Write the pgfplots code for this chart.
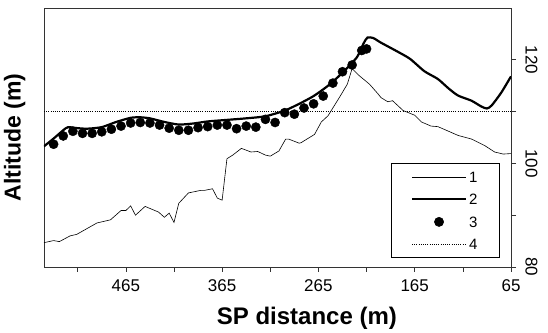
\documentclass[border=0pt]{standalone}
\usepackage{pgfplots}
\pgfplotsset{compat=1.18}
\usepackage{fontspec}
\setmainfont{Liberation Sans}
\pgfplotsset{
  lineleg/.style={legend image code/.code={\draw[##1] (0pt,0pt) -- (54pt,0pt);}},
  dotleg/.style={legend image code/.code={\draw[mark repeat=2,mark phase=2,##1] plot coordinates {(0pt,0pt)(27pt,0pt)(54pt,0pt)};}},
}
\begin{document}
\begin{tikzpicture}
\begin{axis}[
  scale only axis, width=467pt, height=259pt,
  x dir=reverse, xmin=65, xmax=550, ymin=80, ymax=130,
  axis line style={line width=0.6pt, black!80},
  xtick pos=left, ytick pos=right, yticklabel pos=right,
  tick align=outside, major tick length=5pt, minor tick length=5pt,
  tick style={line width=0.6pt, black!80},
  xtick={65,165,265,365,465}, minor xtick={115,215,315,415,515},
  ytick={80,100,120}, minor ytick={90,110},
  /pgf/number format/assume math mode=true,
  /pgf/number format/1000 sep={},
  ticklabel style={font=\fontsize{17}{17}\selectfont},
  yticklabel style={rotate=-90, anchor=south},
  yticklabel shift=6pt, xticklabel shift=4pt,
  xlabel={\textbf{SP distance (m)}},
  ylabel={\textbf{Altitude (m)}},
  xlabel style={font=\fontsize{24}{24}\selectfont, at={(axis description cs:0.563,-0.141)}, anchor=north},
  ylabel style={font=\fontsize{23}{23}\selectfont, at={(axis description cs:-0.032,0.5)}, anchor=south},
  legend style={at={(rel axis cs:0.976,0.035)}, anchor=south east, draw=black, line width=0.6pt,
    font=\fontsize{15}{15}\selectfont, inner xsep=20pt, inner ysep=7pt, row sep=10pt,
    nodes={inner xsep=2pt, inner ysep=1pt, text height=10.5pt, text depth=0pt}},
]
\addplot[black, line width=0.6pt, lineleg] coordinates {
(550,84.7)(540,85.1)(534,84.9)(523,86.0)(516,86.3)(495,88.5)(481,89.1)(470,90.9)(465,90.9)
(460,91.8)(455,90.0)(445,91.7)(431,90.6)(425,89.6)(420,90.4)(415,88.6)(410,92.3)(400,94.3)
(387,94.8)(383,94.8)(375,95.1)(370,93.3)(365,92.9)(360,100.9)(354,101.6)(345,102.9)(335,102.2)
(328,102.3)(320,101.6)(315,101.4)(306,102.4)(299,104.7)(296,104.7)(285,103.9)(283,104.0)
(269,105.6)(262,108.0)(255,109.2)(242,113.1)(235,115.3)(230,118.3)(223,117.0)(212,115.3)
(203,113.4)(200,112.7)(193,111.9)(188,112.1)(177,110.2)(165,109.3)(158,108.0)(148,107.2)
(141,107.1)(131,106.3)(120,105.4)(106,104.7)(92,103.4)(82,102.2)(73,101.8)(65,101.9)
};
\addlegendentry{1}
\addplot[black, line width=2.2pt, smooth, tension=0.4, lineleg] coordinates {
(550,103.3)(540,104.8)(530,106.4)(525,107.0)(515,106.8)(505,106.7)(490,107.0)(475,108.0)
(460,108.8)(450,108.9)(440,108.7)(425,108.0)(410,107.5)(395,107.7)(380,108.1)(360,108.4)
(340,108.7)(320,109.1)(300,110.2)(285,111.5)(270,113.0)(255,115.0)(240,117.5)(225,120.5)
(218,123.2)(214,124.3)(208,124.2)(200,123.3)(185,121.8)(170,120.2)(155,117.8)(141,116.3)
(130,114.5)(120,113.1)(106,112.1)(96,111.0)(90,110.6)(85,111.2)(75,113.7)(65,116.8)
};
\addlegendentry{2}
\addplot[black, only marks, mark=*, mark size=4.6pt, dotleg] coordinates {
(540,103.7)(530,105.3)(520,106.2)(510,105.8)(500,105.8)(490,106.1)(480,106.6)(470,107.2)
(460,107.8)(450,107.9)(440,107.8)(430,107.4)(420,106.8)(410,106.4)(400,106.4)(390,106.9)
(380,107.1)(370,107.4)(360,107.4)(350,106.7)(340,107.2)(330,107.0)(320,108.5)(310,107.9)
(300,109.8)(290,109.5)(280,110.7)(270,111.5)(260,113.0)(250,115.5)(240,117.7)(230,119.0)
(220,121.8)(215,122.1)
};
\addlegendentry{3}
\addplot[black, line width=0.6pt, dash pattern=on 0.9pt off 1.3pt, lineleg] coordinates {(550,110)(65,110)};
\addlegendentry{4}
\end{axis}
\path[use as bounding box] (-44pt,-65pt) rectangle (504pt,267pt);
\end{tikzpicture}
\end{document}
